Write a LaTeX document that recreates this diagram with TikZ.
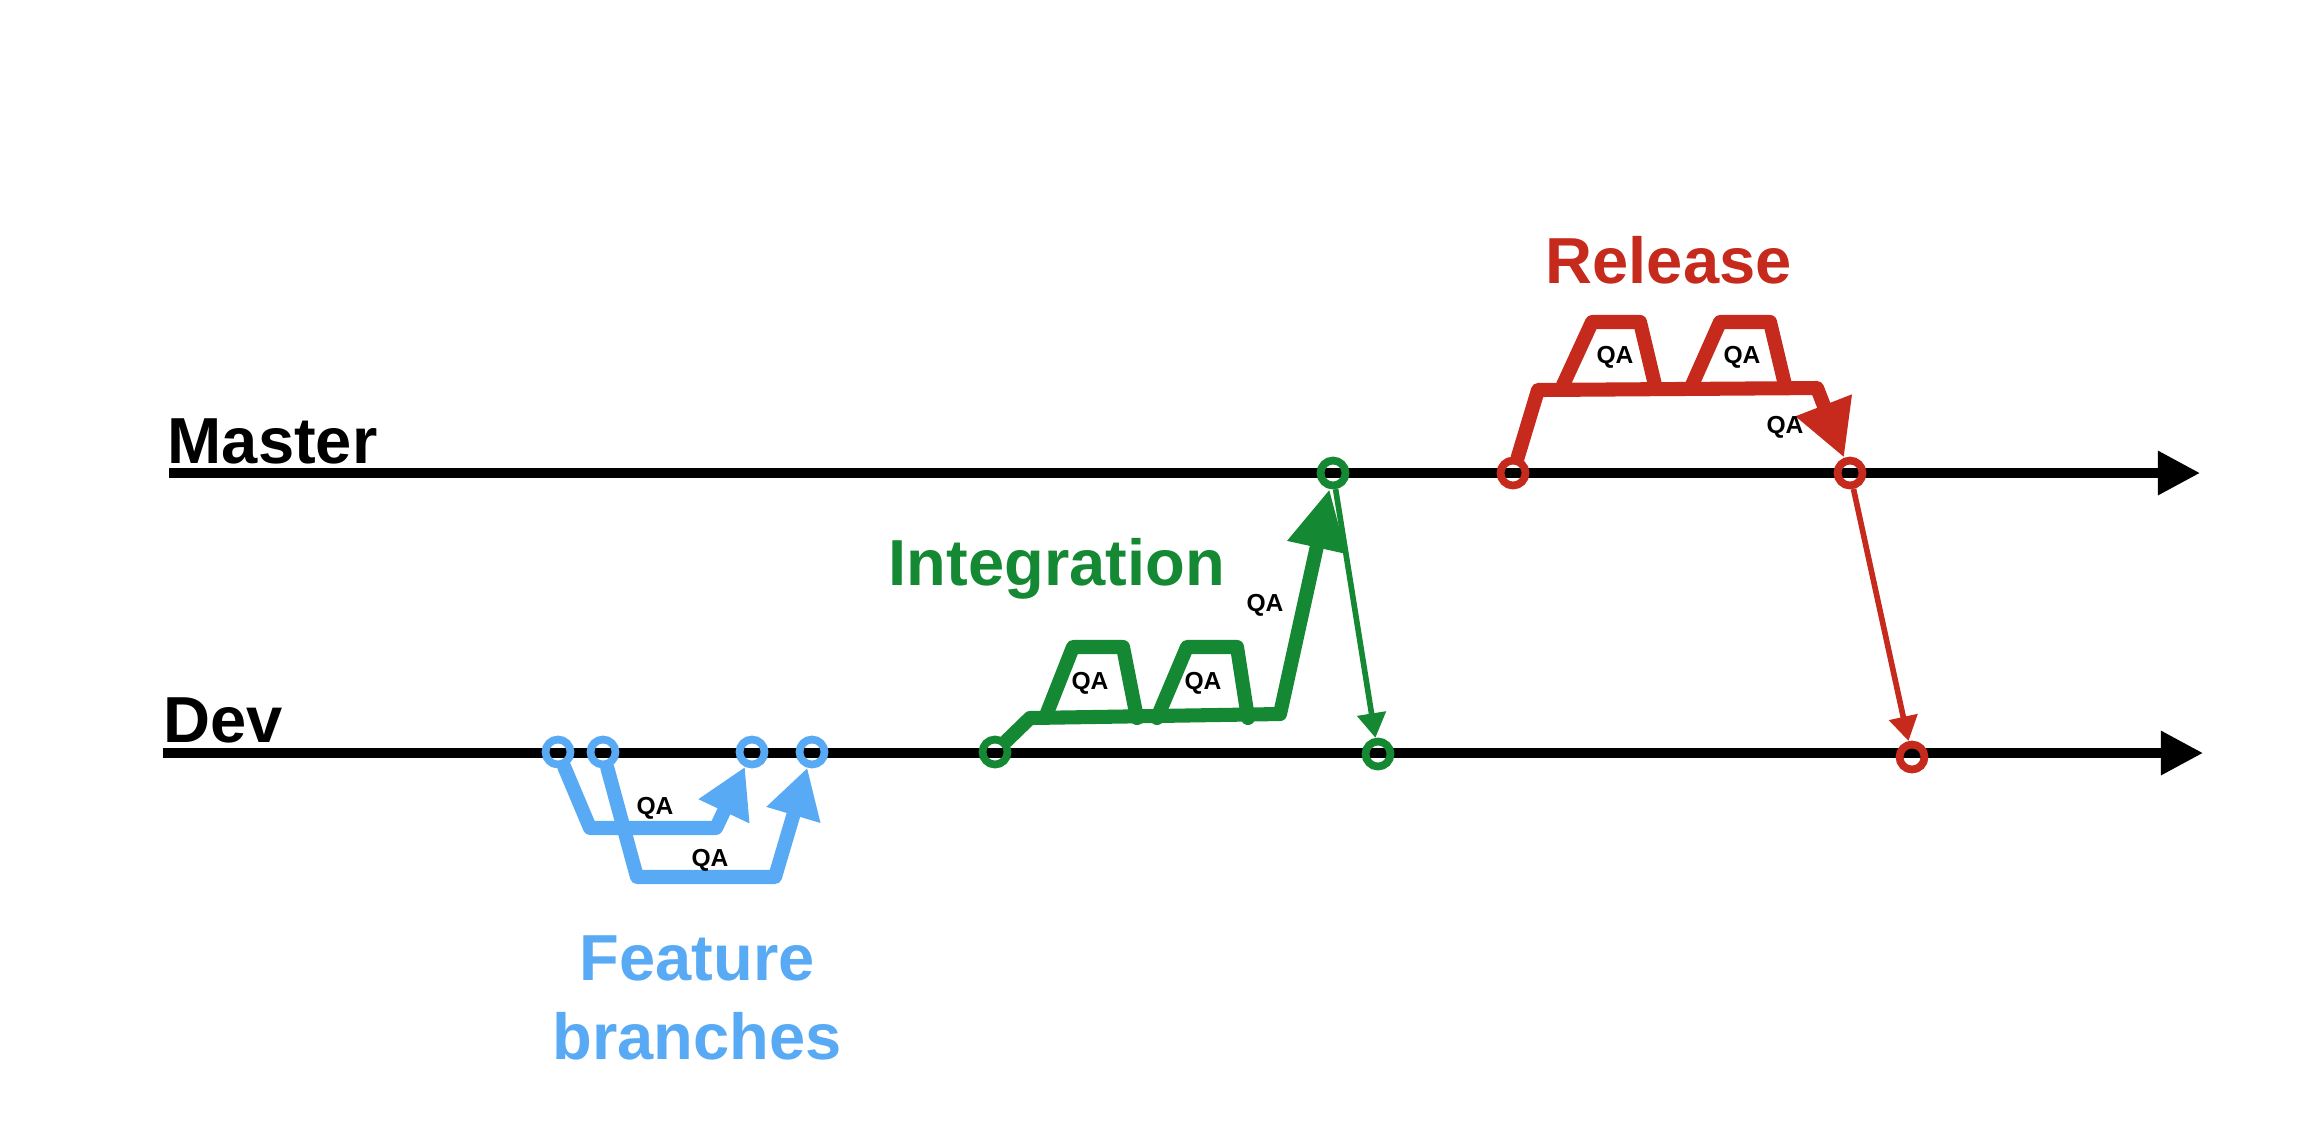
\documentclass[tikz,border=0pt]{standalone}
\usepackage{fontspec}
\setmainfont{Liberation Sans}
\usetikzlibrary{arrows.meta}
\definecolor{featblue}{RGB}{88,170,245}
\definecolor{integgreen}{RGB}{20,136,50}
\definecolor{relred}{RGB}{197,42,28}
\tikzset{
  branchline/.style = {line width=2.6pt, -{Triangle[length=12pt,width=12pt]}},
  commit/.style     = {circle, draw, line width=2.2pt, minimum size=0.25cm, inner sep=0pt},
  title/.style      = {font=\fontsize{18.5}{22.5}\selectfont\bfseries, inner sep=0pt},
  qa/.style         = {font=\fontsize{7}{8}\selectfont\bfseries, inner sep=0pt},
  thick line/.style = {line width=4pt, line cap=round, line join=round},
  thin line/.style  = {line width=1.6pt, -{Triangle[length=7pt,width=8pt]}},
  feat/.style       = {thick line, featblue},
  integ/.style      = {thick line, integgreen},
  rel/.style        = {thick line, relred}
}
\begin{document}
\begin{tikzpicture}[x=0.01cm, y=-0.01cm]
  \useasboundingbox (0,0) rectangle (2306,1147);

  % main lines
  \node[title, anchor=base west] (master) at (167,463) {Master};
  \node[title, anchor=base west] (dev) at (163,742) {Dev};
  \coordinate (m0) at (169,473);
  \coordinate (m1) at (2200,473);
  \coordinate (d0) at (163,753);
  \coordinate (d1) at (2203,753);
  \draw[branchline] (m0) -- (m1);
  \draw[branchline] (d0) -- (d1);

  % feature branches
  \node[commit, featblue] (b1) at (558,752) {};
  \node[commit, featblue] (b2) at (603,752) {};
  \node[commit, featblue] (b3) at (752,752) {};
  \node[commit, featblue] (b4) at (812,752) {};
  \coordinate (b1a) at (590,828);
  \coordinate (b1b) at (716,828);
  \coordinate (b2a) at (637,877);
  \coordinate (b2b) at (775,877);
  \draw[feat, -{Triangle[length=14pt,width=15pt]}] (b1) -- (b1a) -- (b1b) -- (b3);
  \draw[feat, -{Triangle[length=14pt,width=15pt]}] (b2) -- (b2a) -- (b2b) -- (b4);
  \node[qa] (qa1) at (655,808) {QA};
  \node[qa] (qa2) at (710,860) {QA};
  \node[title, featblue, align=center] (featlabel) at (697,998) {Feature\\branches};

  % integration
  \node[commit, integgreen] (g1) at (995,752) {};
  \node[commit, integgreen] (g2) at (1333,473) {};
  \node[commit, integgreen] (g3) at (1378,754) {};
  \coordinate (g1a) at (1030,718);
  \coordinate (g1b) at (1280,714);
  \draw[integ, -{Triangle[length=17pt,width=16pt]}] (g1) -- (g1a) -- (g1b) -- (g2);
  \draw[integ] (1045,718) -- ++(28,-71) -- ++(50,0) -- ++(14,71);
  \draw[integ] (1157,718) -- ++(30,-71) -- ++(50,0) -- ++(11,71);
  \draw[thin line, integgreen] (g2) -- (g3);
  \node[qa] (qa3) at (1090,683) {QA};
  \node[qa] (qa4) at (1203,683) {QA};
  \node[qa] (qa5) at (1265,605) {QA};
  \node[title, integgreen, anchor=base west] (integlabel) at (888,585) {Integration};

  % release
  \node[commit, relred] (r1) at (1513,473) {};
  \node[commit, relred] (r2) at (1850,473) {};
  \node[commit, relred] (r3) at (1912,757) {};
  \coordinate (r1a) at (1538,390);
  \coordinate (r1b) at (1817,388);
  \draw[rel, -{Triangle[length=16pt,width=16pt]}] (r1) -- (r1a) -- (r1b) -- (r2);
  \draw[rel] (1563,385) -- ++(29,-63) -- ++(48,0) -- ++(15,63);
  \draw[rel] (1692,385) -- ++(28,-63) -- ++(50,0) -- ++(15,63);
  \draw[thin line, relred] (r2) -- (r3);
  \node[qa] (qa6) at (1615,357) {QA};
  \node[qa] (qa7) at (1742,357) {QA};
  \node[qa] (qa8) at (1785,427) {QA};
  \node[title, relred, anchor=base west] (rellabel) at (1545,283) {Release};
\end{tikzpicture}
\end{document}
